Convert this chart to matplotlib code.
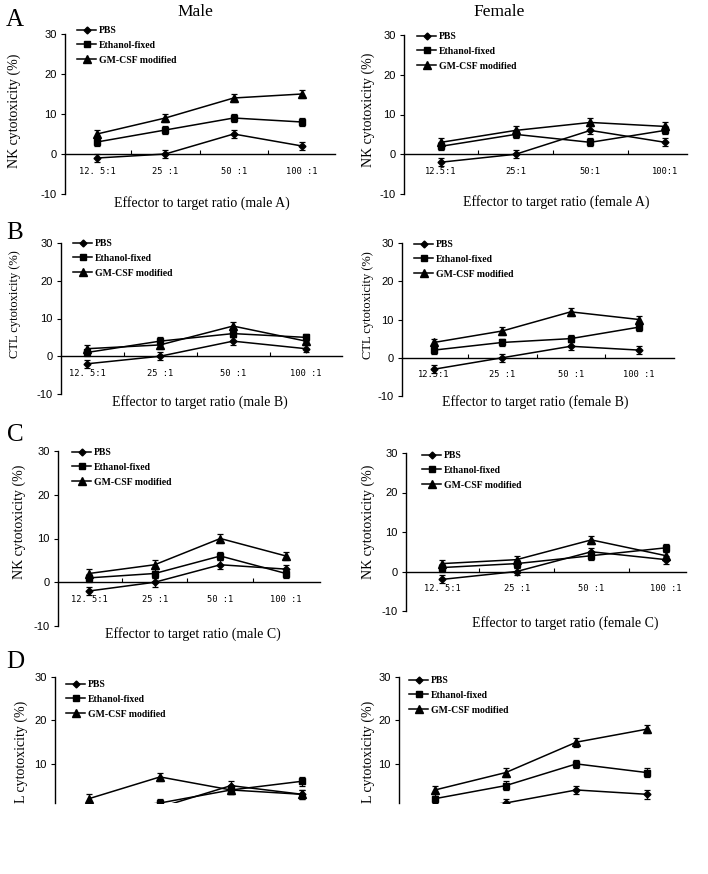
import matplotlib
matplotlib.use('Agg')
import matplotlib.pyplot as plt

plt.rcParams['axes.unicode_minus'] = False

# --- data ---
series_names = ['PBS', 'Ethanol-fixed', 'GM-CSF modified']

labels_spaced = ['12. 5:1', '25 :1', '50 :1', '100 :1']
labels_tight = ['12.5:1', '25:1', '50:1', '100:1']
labels_mixed = ['12.5:1', '25 :1', '50 :1', '100 :1']

male_A_pbs = [-1, 0, 5, 2]
male_A_eth = [3, 6, 9, 8]
male_A_gm = [5, 9, 14, 15]
female_A_pbs = [-2, 0, 6, 3]
female_A_eth = [2, 5, 3, 6]
female_A_gm = [3, 6, 8, 7]

male_B_pbs = [-2, 0, 4, 2]
male_B_eth = [1, 4, 6, 5]
male_B_gm = [2, 3, 8, 4]
female_B_pbs = [-3, 0, 3, 2]
female_B_eth = [2, 4, 5, 8]
female_B_gm = [4, 7, 12, 10]

male_C_pbs = [-2, 0, 4, 3]
male_C_eth = [1, 2, 6, 2]
male_C_gm = [2, 4, 10, 6]
female_C_pbs = [-2, 0, 5, 3]
female_C_eth = [1, 2, 4, 6]
female_C_gm = [2, 3, 8, 4]

male_D_pbs = [-2, 0, 5, 3]
male_D_eth = [-1, 1, 4, 6]
male_D_gm = [2, 7, 4, 3]
female_D_pbs = [-1, 1, 4, 3]
female_D_eth = [2, 5, 10, 8]
female_D_gm = [4, 8, 15, 18]

err = [1, 1, 1, 1]

W, H = 708, 874
fig = plt.figure(figsize=(W / 100, H / 100), dpi=100)
fig.patch.set_facecolor('white')


def fx(x):
    return x / W


def fy(y):
    return 1 - y / H


SERIF = 'Liberation Serif'
markers = [('D', 3.5), ('s', 5), ('^', 5.5)]


def panel(box, pts, ylo, data, ticklabels, leg):
    # box: left, right, top(30), bottom pixel; pts: pixel x of first / last point
    x0, x1, yt, yb = box
    ax = fig.add_axes([fx(x0), fy(yb), (x1 - x0) / W, (yb - yt) / H])
    s = (pts[1] - pts[0]) / 3
    ax.set_xlim(-(pts[0] - x0) / s, (x1 - pts[0]) / s)
    ax.set_ylim(ylo, 30)
    xs = list(range(4))
    for vals, (mk, ms), name in zip(data, markers, series_names):
        ax.plot(xs, vals, color='black', lw=1.1, marker=mk, ms=ms, label=name)
        ax.errorbar(xs, vals, yerr=err, fmt='none', ecolor='black',
                    elinewidth=0.9, capsize=2, capthick=0.9)
    for side in ['top', 'right']:
        ax.spines[side].set_visible(False)
    ax.spines['left'].set_linewidth(1.0)
    ax.tick_params(axis='y', direction='out', length=3, width=0.8, pad=3)
    if ylo < 0:
        ax.set_yticks([-10, 0, 10, 20, 30])
        ax.spines['bottom'].set_position(('data', 0))
        ax.spines['bottom'].set_linewidth(1.0)
        ax.set_xticks(xs)
        ax.set_xticks([0.5, 1.5, 2.5], minor=True)
        ax.set_xticklabels(ticklabels, fontfamily='DejaVu Sans Mono', fontsize=6.3)
        ax.tick_params(axis='x', which='major', length=0, pad=9)
        ax.tick_params(axis='x', which='minor', direction='in', length=3, width=0.8)
    else:
        ax.set_yticks([10, 20, 30])
        ax.spines['bottom'].set_visible(False)
        ax.set_xticks([])
    for lab in ax.get_yticklabels():
        lab.set_fontfamily('Liberation Sans')
        lab.set_fontsize(8)
    hx, hy = leg
    ax.legend(loc='upper left', bbox_to_anchor=(fx(hx), fy(hy - 7)),
              bbox_transform=fig.transFigure, frameon=False, borderpad=0,
              borderaxespad=0, handlelength=2.0, handletextpad=0.25,
              labelspacing=0.6, numpoints=1,
              prop={'family': SERIF, 'weight': 'bold', 'size': 7})
    return ax


panel((65, 335, 34, 194), (97, 302), -10, [male_A_pbs, male_A_eth, male_A_gm], labels_spaced, (77, 33))
panel((404, 687, 35, 194), (441, 665), -10, [female_A_pbs, female_A_eth, female_A_gm], labels_tight, (417, 39))
panel((61, 342, 243, 394), (87, 306), -10, [male_B_pbs, male_B_eth, male_B_gm], labels_spaced, (73, 246))
panel((402, 674, 243, 396), (434, 639), -10, [female_B_pbs, female_B_eth, female_B_gm], labels_mixed, (414, 247))
panel((58, 320, 451, 626), (89, 286), -10, [male_C_pbs, male_C_eth, male_C_gm], labels_spaced, (72, 455))
panel((406, 686, 453, 611), (442, 666), -10, [female_C_pbs, female_C_eth, female_C_gm], labels_spaced, (422, 458))
panel((55, 330, 677, 803), (89, 302), 1, [male_D_pbs, male_D_eth, male_D_gm], labels_spaced, (66, 687))
panel((399, 680, 677, 803), (435, 647), 1, [female_D_pbs, female_D_eth, female_D_gm], labels_spaced, (409, 683))

# column titles and panel letters
fig.text(fx(195), fy(12), 'Male', ha='center', va='center', fontfamily=SERIF, fontsize=12.5)
fig.text(fx(499), fy(12), 'Female', ha='center', va='center', fontfamily=SERIF, fontsize=12.5)
for letter, ly in [('A', 20), ('B', 233), ('C', 435), ('D', 662)]:
    fig.text(fx(15), fy(ly), letter, ha='center', va='center', fontfamily=SERIF, fontsize=18)

# y axis titles
for txt, x, y, fs in [('NK cytotoxicity (%)', 14, 111, 10), ('NK cytotoxicity (%)', 368, 110, 10),
                      ('CTL cytotoxicity (%)', 15, 304, 9), ('CTL cytotoxicity (%)', 368, 305, 9),
                      ('NK cytotoxicity (%)', 19, 522, 10), ('NK cytotoxicity (%)', 368, 522, 10)]:
    fig.text(fx(x), fy(y), txt, rotation=90, ha='center', va='center', fontfamily=SERIF, fontsize=fs)
for x in [21, 368]:
    fig.text(fx(x), fy(803), 'L cytotoxicity (%)', rotation=90, ha='center', va='bottom',
             fontfamily=SERIF, fontsize=10)

# x axis titles
for txt, x, y in [('Effector to target ratio (male A)', 202, 203),
                  ('Effector to target ratio (female A)', 556, 202),
                  ('Effector to target ratio (male B)', 200, 402),
                  ('Effector to target ratio (female B)', 535, 402),
                  ('Effector to target ratio (male C)', 193, 634),
                  ('Effector to target ratio (female C)', 565, 623)]:
    fig.text(fx(x), fy(y), txt, ha='center', va='center', fontfamily=SERIF, fontsize=10)

fig.savefig('out.png', dpi=100)
